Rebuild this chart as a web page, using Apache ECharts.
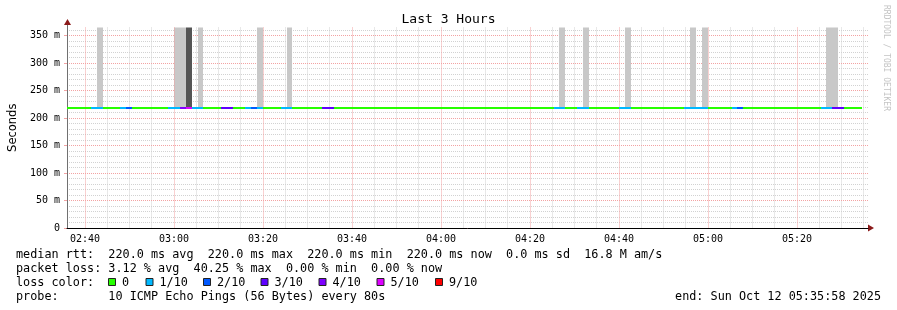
<!DOCTYPE html>
<html><head><meta charset="utf-8">
<script src="https://cdn.jsdelivr.net/npm/echarts@6/dist/echarts.min.js"></script>
<style>html,body{margin:0;padding:0;background:#fff}#c{width:897px;height:310px}</style>
</head><body><div id="c"></div>
<script>
// ---------- data ----------
const titleText = 'Last 3 Hours';
const yAxisTitle = 'Seconds';
const endTimeText = '05:35:58';
const stepSeconds = 80;
const stepCount = 135;

const xTickLabels = ['02:40','03:00','03:20','03:40','04:00','04:20','04:40','05:00','05:20'];
const xMinorTicks = ['02:45','02:50','02:55','03:05','03:10','03:15','03:25','03:30','03:35',
  '03:45','03:50','03:55','04:05','04:10','04:15','04:25','04:30','04:35','04:45','04:50','04:55',
  '05:05','05:10','05:15','05:25','05:30','05:35'];
const yTickValues = [0,50,100,150,200,250,300,350];
const yMinorValues = [10,20,30,40,60,70,80,90,110,120,130,140,160,170,180,190,210,220,230,240,
  260,270,280,290,310,320,330,340,360];

// packet loss per 80 s step (pings lost out of 10)
const lossCount = [
  0,0,0,0,1,1,0,0,0,1,2,0,0,0,0,
  0,0,1,1,4,5,1,1,0,0,0,3,3,0,0,
  1,2,1,0,0,0,1,1,0,0,0,0,0,3,3,
  0,0,0,0,0,0,0,0,0,0,0,0,0,0,0,
  0,0,0,0,0,0,0,0,0,0,0,0,0,0,0,
  0,0,0,0,0,0,0,1,1,0,0,1,1,0,0,
  0,0,0,1,1,0,0,0,0,0,0,0,0,0,1,
  1,1,1,0,0,0,0,1,2,0,0,0,0,0,0,
  0,0,0,0,0,0,0,1,1,3,3,0,0,0,null
];
// median rtt per step, ms
const medianMs = [
  220,220,220,220,220,220,220,220,220,220,220,220,220,220,220,
  220,220,220,220,220,220,220,220,220,220,220,220,220,220,220,
  220,220,220,220,220,220,220,220,220,220,220,220,220,220,220,
  220,220,220,220,220,220,220,220,220,220,220,220,220,220,220,
  220,220,220,220,220,220,220,220,220,220,220,220,220,220,220,
  220,220,220,220,220,220,220,220,220,220,220,220,220,220,220,
  220,220,220,220,220,220,220,220,220,220,220,220,220,220,220,
  220,220,220,220,220,220,220,220,220,220,220,220,220,220,220,
  220,220,220,220,220,220,220,220,220,220,220,220,220,220,null
];
// smoke (ping spread) columns
const smokeSteps  = [5,18,19,20,22,32,37,83,87,94,105,107,128,129];
const smokeLowMs  = [220,220,220,220,220,220,220,220,220,220,220,220,220,220];
const smokeHighMs = [400,400,400,400,400,400,400,400,400,400,400,400,400,400];
const smokeShade  = [1,1,1,2,1,1,1,1,1,1,1,1,1,1];

const lossLegendLabels = ['0','1/10','2/10','3/10','4/10','5/10','9/10'];
const lossLegendMin    = [0,1,2,3,4,5,9];
const lossLegendColors = ['#26ff00','#00b8ff','#0059ff','#5e00ff','#7e00ff','#dd00ff','#ff0000'];

const statLines = [
  'median rtt:  220.0 ms avg  220.0 ms max  220.0 ms min  220.0 ms now  0.0 ms sd  16.8 M am/s',
  'packet loss: 3.12 % avg  40.25 % max  0.00 % min  0.00 % now',
  'loss color:',
  'probe:       10 ICMP Echo Pings (56 Bytes) every 80s'
];
const endText = 'end: Sun Oct 12 05:35:58 2025';
const creditText = 'RRDTOOL / TOBI OETIKER';

// ---------- build ----------
const MONO = 'DejaVu Sans Mono';
function toMin(s){const p=s.split(':').map(Number);return p[0]*60+p[1]+(p[2]||0)/60;}
function fmtMin(v){const h=Math.floor(v/60),m=Math.round(v-h*60);return (h<10?'0':'')+h+':'+(m<10?'0':'')+m;}
const xMax = toMin(endTimeText);
const stepMin = stepSeconds/60;
const xMin = xMax - stepCount*stepMin;
function lossColor(n){let c=lossLegendColors[0];for(let k=0;k<lossLegendMin.length;k++){if(n>=lossLegendMin[k])c=lossLegendColors[k];}return c;}

const medianData = [];
medianMs.forEach((v,i)=>{ if(v!=null) medianData.push([xMin+i*stepMin, xMin+(i+1)*stepMin, v, lossCount[i]]); });
const smokeData = smokeSteps.map((s,k)=>[xMin+s*stepMin, xMin+(s+1)*stepMin, smokeLowMs[k], smokeHighMs[k], smokeShade[k]]);

const majorX = xTickLabels.map(toMin);
const minorX = xMinorTicks.map(toMin);

const GRID = {left:67, right:29, top:27.5, bottom:82, containLabel:false, outerBoundsMode:'none'};
const RED = '#f3a3a3', GRAY = '#d2d2d2';

const graphics = [];
graphics.push({type:'text', left:'center', top:13, style:{text:titleText, font:'13px '+MONO, fill:'#000'}});
graphics.push({type:'text', x:886, y:5, rotation:-Math.PI/2, style:{text:creditText, font:'8px '+MONO, fill:'#c4c4c4', textAlign:'left', textVerticalAlign:'middle'}});
statLines.forEach((t,i)=>{
  graphics.push({type:'text', x:16, y:254.5+i*14, style:{text:t, font:'11.8px '+MONO, fill:'#000', textVerticalAlign:'middle'}});
});
graphics.push({type:'text', x:881, y:254.5+3*14, style:{text:endText, font:'11.8px '+MONO, fill:'#000', textAlign:'right', textVerticalAlign:'middle'}});
const legendBoxX = [108.5,146,203.5,261,319,377,435.5];
lossLegendLabels.forEach((lab,k)=>{
  graphics.push({type:'rect', shape:{x:legendBoxX[k], y:278.5, width:7, height:7}, style:{fill:lossLegendColors[k], stroke:'#222', lineWidth:1}});
  graphics.push({type:'text', x:legendBoxX[k]+13.5, y:282.5, style:{text:lab, font:'11.8px '+MONO, fill:'#000', textVerticalAlign:'middle'}});
});
// axis arrow heads
graphics.push({type:'line', shape:{x1:67.5,y1:28,x2:67.5,y2:23}, style:{stroke:'#707070', lineWidth:1}});
graphics.push({type:'polygon', shape:{points:[[64,25],[71,25],[67.5,19]]}, style:{fill:'#8b1a1a'}});
graphics.push({type:'polygon', shape:{points:[[868,224.5],[868,231.5],[874,228]]}, style:{fill:'#8b1a1a'}});

const option = {
  backgroundColor:'#fff',
  animation:false,
  grid:GRID,
  xAxis:[
    {type:'value', min:xMin, max:xMax, position:'bottom', z:3,
     axisLine:{show:true, lineStyle:{color:'#000', width:1}},
     axisTick:{show:false, customValues:majorX},
     axisLabel:{customValues:majorX, formatter:fmtMin, fontFamily:MONO, fontSize:10, color:'#000', margin:6},
     splitLine:{show:true, lineStyle:{color:RED, width:1, type:[1,1]}}},
    {type:'value', min:xMin, max:xMax, position:'bottom', z:1,
     axisLine:{show:false}, axisTick:{show:false, customValues:minorX},
     axisLabel:{show:false, customValues:minorX},
     splitLine:{show:true, lineStyle:{color:GRAY, width:1, type:[1,1]}}}
  ],
  yAxis:[
    {type:'value', min:0, max:365, position:'left', z:2,
     name:yAxisTitle, nameLocation:'middle', nameRotate:90, nameGap:48,
     nameTextStyle:{fontFamily:'DejaVu Sans', fontSize:11.5, color:'#000'},
     axisLine:{show:true, lineStyle:{color:'#707070', width:1}},
     axisTick:{show:true, length:3, customValues:yTickValues, lineStyle:{color:RED}},
     axisLabel:{customValues:yTickValues, formatter:v=>v===0?'0':(v+' m'), fontFamily:MONO, fontSize:10, color:'#000', margin:7},
     splitLine:{show:true, lineStyle:{color:RED, width:1, type:[1,1]}}},
    {type:'value', min:0, max:365, position:'left', z:1,
     axisLine:{show:false}, axisTick:{show:false, customValues:yMinorValues},
     axisLabel:{show:false, customValues:yMinorValues},
     splitLine:{show:true, lineStyle:{color:GRAY, width:1, type:[1,1]}}}
  ],
  series:[
    {type:'custom', name:'smoke', xAxisIndex:0, yAxisIndex:0, clip:true, z:2, silent:true,
     data:smokeData, encode:{x:[0,1], y:[2,3]},
     renderItem:function(params, api){
       const p0 = api.coord([api.value(0), api.value(3)]);
       const p1 = api.coord([api.value(1), api.value(2)]);
       const x0 = Math.round(p0[0]), x1 = Math.round(p1[0]);
       return {type:'rect', shape:{x:x0, y:p0[1], width:x1-x0, height:p1[1]-p0[1]},
               style:{fill: api.value(4)===2 ? '#555555' : '#c8c8c8'}};
     }},
    {type:'custom', name:'median', xAxisIndex:0, yAxisIndex:0, clip:true, z:3, silent:true,
     data:medianData, encode:{x:[0,1], y:2},
     renderItem:function(params, api){
       const p0 = api.coord([api.value(0), api.value(2)]);
       const p1 = api.coord([api.value(1), api.value(2)]);
       const x0 = Math.round(p0[0]), x1 = Math.round(p1[0]);
       return {type:'rect', shape:{x:x0, y:Math.round(p0[1]), width:x1-x0, height:2},
               style:{fill: lossColor(api.value(3))}};
     }}
  ],
  graphic:graphics
};
const chart = echarts.init(document.getElementById('c'));
chart.setOption(option);
</script>
</body></html>
